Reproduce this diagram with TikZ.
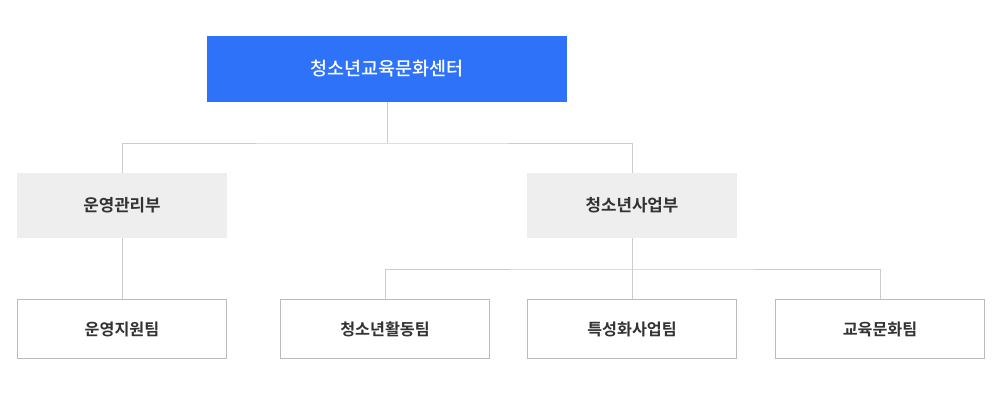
\documentclass[tikz,border=0pt]{standalone}
\usepackage{fontspec}
\newfontfamily\kr{Noto Sans CJK KR}
\newfontfamily\krb{Noto Sans CJK KR Bold}
\newfontfamily\krm{Noto Sans CJK KR Medium}
\definecolor{topblue}{HTML}{2D72F8}
\definecolor{deptgray}{HTML}{EEEEEE}
\definecolor{linegray}{HTML}{CCCCCC}
\definecolor{boxline}{HTML}{BBBBBB}
\definecolor{txt}{HTML}{333333}
\begin{document}
\begin{tikzpicture}[x=1pt,y=-1pt,
  topbox/.style={fill=topblue,text=white,minimum width=360pt,minimum height=66pt,inner sep=0pt,font=\krm\fontsize{18.5}{22}\selectfont},
  deptbox/.style={fill=deptgray,text=txt,minimum width=210pt,minimum height=65pt,inner sep=0pt,font=\krb\fontsize{16.8}{20}\selectfont},
  teambox/.style={draw=boxline,line width=1pt,fill=white,text=txt,minimum width=209pt,minimum height=59pt,inner sep=0pt,font=\krb\fontsize{16.2}{20}\selectfont},
  conn/.style={draw=linegray,line width=1pt}]
\useasboundingbox (0,0) rectangle (1000,400);
\node[topbox] (top) at (387,69) {청소년교육문화센터};
\node[deptbox] (d1) at (122,205.5) {운영관리부};
\node[deptbox] (d2) at (632,205.5) {청소년사업부};
\node[teambox] (t1) at (122,329) {운영지원팀};
\node[teambox] (t2) at (385,329) {청소년활동팀};
\node[teambox] (t3) at (632,329) {특성화사업팀};
\node[teambox] (t4) at (880,329) {교육문화팀};
\coordinate (h1) at (387,143);
\coordinate (h2) at (632,269);
\path[conn] (top.south) -- (h1);
\path[conn] (d1.north) |- (h1) -| (d2.north);
\path[conn] (d1.south) -- (t1.north);
\path[conn] (d2.south) -- (t3.north);
\path[conn] (t2.north) |- (h2) -| (t4.north);
\end{tikzpicture}
\end{document}
